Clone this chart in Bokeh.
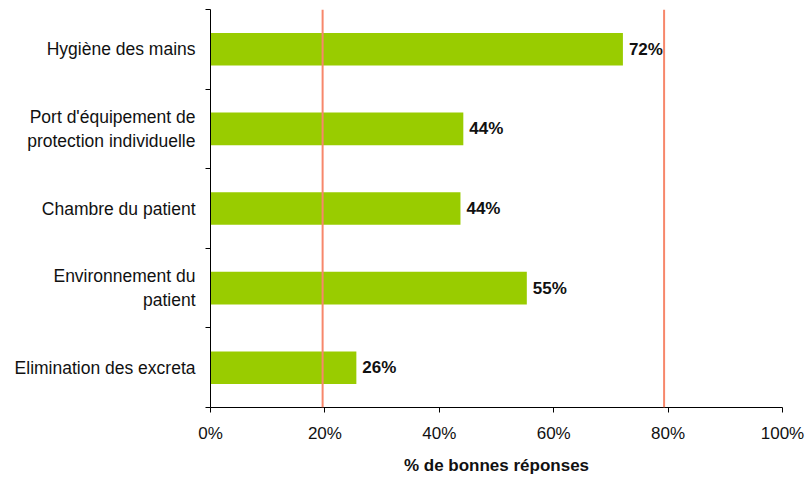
from bokeh.plotting import figure
from bokeh.models import FixedTicker, Span, ColumnDataSource, PrintfTickFormatter, LabelSet
from bokeh.core.properties import value
from bokeh.embed import file_html
from bokeh.resources import INLINE

categories = [
    "Hygiène des mains",
    "Port d'équipement de\nprotection individuelle",
    "Chambre du patient",
    "Environnement du\npatient",
    "Elimination des excreta",
]
values = [72.1, 44.2, 43.7, 55.3, 25.5]
value_labels = ["72%", "44%", "44%", "55%", "26%"]
reference_lines = [19.6, 79.3]
x_ticks = [0, 20, 40, 60, 80, 100]

n = len(categories)
centers = [n - i - 0.5 for i in range(n)]

src = ColumnDataSource(dict(y=centers, v=values, lab=value_labels))

FONT = "Liberation Sans"

p = figure(width=806, height=477, output_backend="svg", toolbar_location=None,
           x_range=(0, 100), y_range=(0, n),
           min_border_left=210, min_border_right=24, min_border_top=9, min_border_bottom=10)
p.outline_line_color = None
p.grid.grid_line_color = None
p.background_fill_color = "white"

p.hbar(y="y", right="v", left=0, height=0.41, source=src, fill_color="#99CC00", line_color=None)

for loc in reference_lines:
    p.add_layout(Span(location=loc, dimension="height", line_color="#F7876B", line_width=2))

labels = LabelSet(x="v", y="y", text="lab", source=src, x_offset=6, text_baseline="middle",
                  text_font=value(FONT), text_font_style="bold", text_font_size="17px",
                  text_color="#111111")
p.add_layout(labels)

# y axis: labels at band centers, ticks at band boundaries
ya = p.yaxis[0]
ya.ticker = FixedTicker(ticks=centers, minor_ticks=list(range(n + 1)))
ya.major_label_overrides = {c: categories[i] for i, c in enumerate(centers)}
ya.major_tick_line_color = None
ya.major_tick_out = 0
ya.major_tick_in = 0
ya.minor_tick_out = 5
ya.minor_tick_in = 0
ya.minor_tick_line_color = "black"
ya.axis_line_color = "black"
ya.major_label_standoff = 10
ya.major_label_text_font = FONT
ya.major_label_text_font_size = "17.5px"
ya.major_label_text_color = "#111111"

xa = p.xaxis[0]
xa.ticker = FixedTicker(ticks=x_ticks, minor_ticks=[])
xa.formatter = PrintfTickFormatter(format="%d%%")
xa.major_tick_out = 5
xa.major_tick_in = 0
xa.major_label_standoff = 11
xa.major_label_text_font = FONT
xa.major_label_text_font_size = "17px"
xa.major_label_text_color = "#111111"
xa.axis_label = "% de bonnes réponses"
xa.axis_label_text_font = FONT
xa.axis_label_text_font_style = "bold"
xa.axis_label_text_font_size = "17px"
xa.axis_label_standoff = 10
xa.axis_label_text_color = "#111111"

open("out.html", "w").write(file_html(p, INLINE))
